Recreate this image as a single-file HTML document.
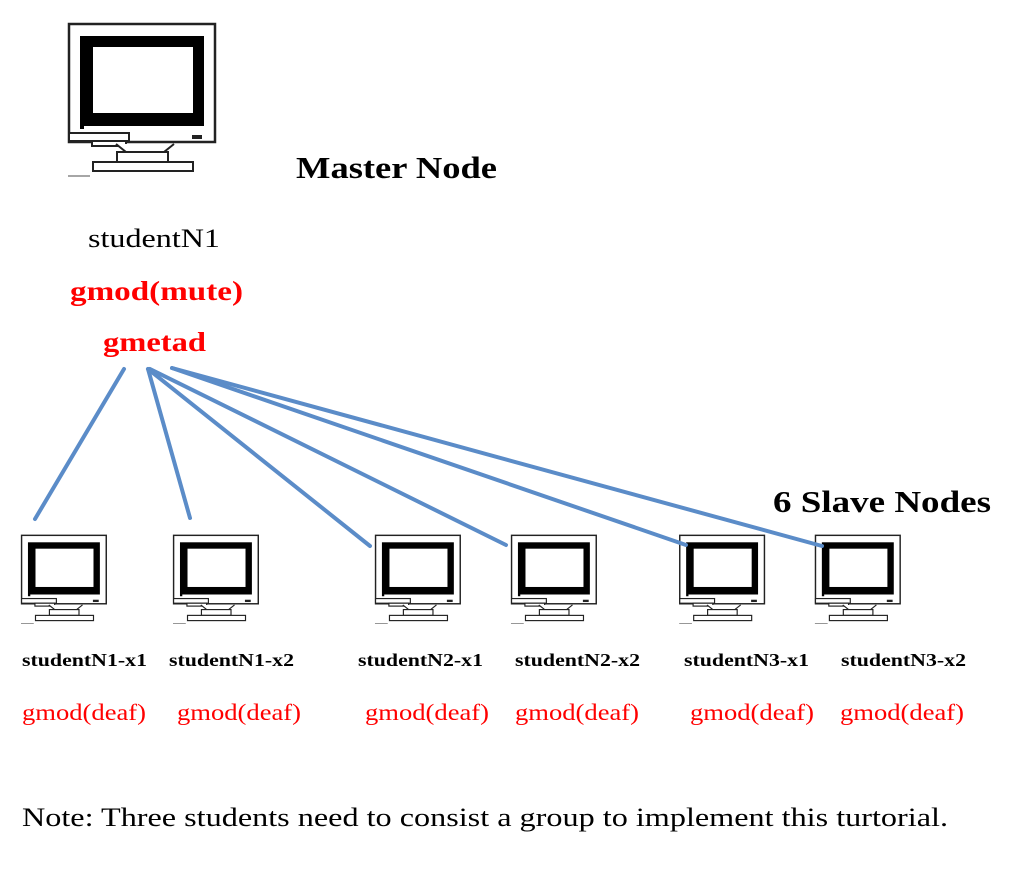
<!DOCTYPE html>
<html><head><meta charset="utf-8"><style>
html,body{margin:0;padding:0;background:#fff;}
body{width:1011px;height:870px;overflow:hidden;position:relative;}
svg{position:absolute;left:0;top:0;}
.t{font-family:"Liberation Serif",serif;}
</style></head><body>
<svg width="1011" height="870" viewBox="0 0 1011 870">
<defs>
<g id="mon">
<rect x="1" y="1" width="146" height="118" fill="#fff" stroke="#222" stroke-width="2.5"/>
<rect x="12" y="13" width="124" height="90" fill="#000"/>
<rect x="25" y="24" width="100" height="66" fill="#fff"/>
<rect x="12" y="103" width="4" height="3" fill="#000"/>
<rect x="1" y="110" width="60" height="8" fill="#fff" stroke="#222" stroke-width="2"/>
<rect x="24" y="118" width="34" height="5" fill="#fff" stroke="#222" stroke-width="2"/>
<rect x="124" y="112" width="10" height="4" fill="#222"/>
<path d="M48 121 L58 129 L96 129 L106 121" fill="#fff" stroke="#222" stroke-width="2"/>
<rect x="49" y="129" width="51" height="10" fill="#fff" stroke="#222" stroke-width="2"/>
<rect x="25" y="139" width="100" height="9" fill="#fff" stroke="#222" stroke-width="2"/>
<line x1="0" y1="153" x2="22" y2="153" stroke="#888" stroke-width="1.5"/>
</g>
</defs>
<use href="#mon" transform="translate(68,23)"/>
<g transform="scale(0.58)">
<use href="#mon" transform="translate(36.2,922)"/>
<use href="#mon" transform="translate(298.3,922)"/>
<use href="#mon" transform="translate(646.5,922)"/>
<use href="#mon" transform="translate(881,922)"/>
<use href="#mon" transform="translate(1171,922)"/>
<use href="#mon" transform="translate(1405,922)"/>
</g>
<g stroke="#5b8cc8" stroke-width="4" stroke-linecap="round">
<line x1="124" y1="369" x2="35" y2="519"/>
<line x1="148" y1="369" x2="190" y2="518"/>
<line x1="148" y1="369" x2="370" y2="546"/>
<line x1="150" y1="369" x2="506" y2="545"/>
<line x1="172" y1="368" x2="686" y2="545"/>
<line x1="172" y1="368" x2="822" y2="546"/>
</g>
<g class="t" lengthAdjust="spacingAndGlyphs">
<text x="296" y="178" font-size="31" font-weight="bold" textLength="201" lengthAdjust="spacingAndGlyphs">Master Node</text>
<text x="88" y="247" font-size="26" textLength="132" lengthAdjust="spacingAndGlyphs">studentN1</text>
<text x="70" y="300" font-size="27" font-weight="bold" fill="#ff0000" textLength="173" lengthAdjust="spacingAndGlyphs">gmod(mute)</text>
<text x="103" y="351" font-size="27" font-weight="bold" fill="#ff0000" textLength="103" lengthAdjust="spacingAndGlyphs">gmetad</text>
<text x="773" y="512" font-size="31" font-weight="bold" textLength="218" lengthAdjust="spacingAndGlyphs">6 Slave Nodes</text>
<g font-size="18" font-weight="bold">
<text x="22" y="666" textLength="125" lengthAdjust="spacingAndGlyphs">studentN1-x1</text>
<text x="169" y="666" textLength="125" lengthAdjust="spacingAndGlyphs">studentN1-x2</text>
<text x="358" y="666" textLength="125" lengthAdjust="spacingAndGlyphs">studentN2-x1</text>
<text x="515" y="666" textLength="125" lengthAdjust="spacingAndGlyphs">studentN2-x2</text>
<text x="684" y="666" textLength="125" lengthAdjust="spacingAndGlyphs">studentN3-x1</text>
<text x="841" y="666" textLength="125" lengthAdjust="spacingAndGlyphs">studentN3-x2</text>
</g>
<g font-size="23" fill="#ff0000">
<text x="22" y="720" textLength="124" lengthAdjust="spacingAndGlyphs">gmod(deaf)</text>
<text x="177" y="720" textLength="124" lengthAdjust="spacingAndGlyphs">gmod(deaf)</text>
<text x="365" y="720" textLength="124" lengthAdjust="spacingAndGlyphs">gmod(deaf)</text>
<text x="515" y="720" textLength="124" lengthAdjust="spacingAndGlyphs">gmod(deaf)</text>
<text x="690" y="720" textLength="124" lengthAdjust="spacingAndGlyphs">gmod(deaf)</text>
<text x="840" y="720" textLength="124" lengthAdjust="spacingAndGlyphs">gmod(deaf)</text>
</g>
<text x="22" y="826" font-size="26" textLength="926" lengthAdjust="spacingAndGlyphs">Note: Three students need to consist a group to implement this turtorial.</text>
</g>
</svg>
</body></html>
